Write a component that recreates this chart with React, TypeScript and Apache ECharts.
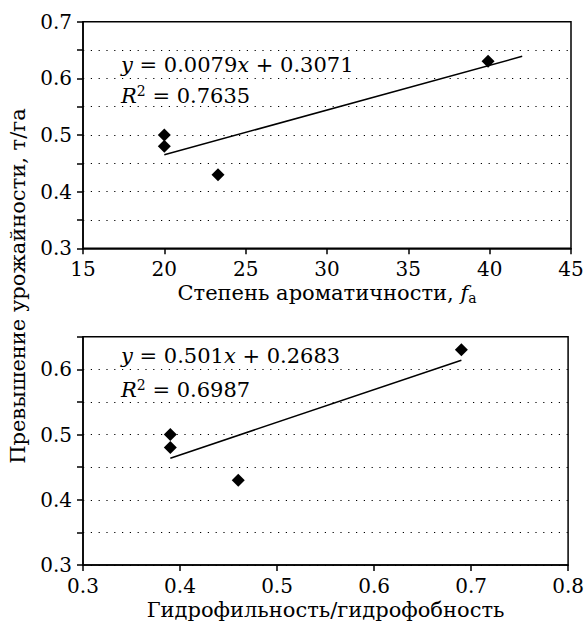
import { useEffect, useRef } from 'react';
import * as echarts from 'echarts';

// ---- data ----
const aromaticity = [20, 20, 23.3, 39.9];
const hydroRatio = [0.39, 0.39, 0.46, 0.69];
const yieldGain = [0.5, 0.48, 0.43, 0.63];

const fitAromatic = [0.0079, 0.3071]; // slope, intercept
const fitHydro = [0.501, 0.2683];
const r2Values = ['0.7635', '0.6987'];
const trendAromaticX = [20, 42];
const trendHydroX = [0.39, 0.69];

const axisAromatic = [15, 45, 5]; // min, max, interval
const axisHydro = [0.3, 0.8, 0.1];
const axisYieldTop = [0.3, 0.7, 0.05];
const axisYieldBottom = [0.3, 0.65, 0.05];

const yTitle = 'Превышение урожайности, т/га';
const xTitleTop = 'Степень ароматичности, {i|f}{sub|a}';
const xTitleBottom = 'Гидрофильность/гидрофобность';

const FONT = 'DejaVu Serif';

export default function App() {
  const ref = useRef<HTMLDivElement>(null);
  useEffect(() => {
    if (!ref.current) return;
    const chart = echarts.init(ref.current, undefined, { renderer: 'svg' });

    const pairs = (xs: number[], ys: number[]) => xs.map((x, i) => [x, ys[i]]);
    const trend = (xs: number[], fit: number[]) => xs.map((x) => [x, fit[0] * x + fit[1]]);

    const yLabel = (v: number) => (Math.abs(Math.round(v * 20)) % 2 === 0 ? v.toFixed(1) : '');
    const xLabelInt = (v: number) => String(Math.round(v));
    const xLabelDec = (v: number) => v.toFixed(1);

    const lineStyle = { color: '#000', width: 1.5 };
    const baseAxis = {
      type: 'value' as const,
      axisLine: { show: true, onZero: false, lineStyle },
      axisTick: { show: true, inside: false, length: 6, lineStyle },
      axisLabel: { color: '#000', fontFamily: FONT, fontSize: 20, margin: 11 },
    };
    const dotted = { show: true, lineStyle: { color: '#000', width: 1.2, type: [1.2, 6.6] } };

    const rich = {
      i: { fontStyle: 'italic', fontFamily: FONT, fontSize: 21, lineHeight: 24, color: '#000' },
      n: { fontFamily: FONT, fontSize: 21, lineHeight: 24, color: '#000' },
      sup: { fontFamily: FONT, fontSize: 14, lineHeight: 15, verticalAlign: 'top', color: '#000' },
    };

    const eqText = (fit: number[]) => `{i|y}{n| = ${fit[0]}}{i|x}{n| + ${fit[1]}}`;
    const r2Text = (r: string) => `{i|R}{sup|2}{n| = ${r}}`;

    const titleStyle = {
      color: '#000',
      fontFamily: FONT,
      fontSize: 21,
      lineHeight: 24,
      verticalAlign: 'top',
    };

    const option: echarts.EChartsOption = {
      animation: false,
      backgroundColor: '#fff',
      textStyle: { fontFamily: FONT, color: '#000' },
      grid: [
        { left: 83, right: 16, top: 21.7, height: 226.6, show: true, borderColor: '#000', borderWidth: 1.5, containLabel: false },
        { left: 83, right: 16, top: 336.7, height: 228.3, show: true, borderColor: '#000', borderWidth: 1.5, containLabel: false },
      ],
      xAxis: [
        {
          ...baseAxis,
          gridIndex: 0,
          min: axisAromatic[0],
          max: axisAromatic[1],
          interval: axisAromatic[2],
          splitLine: { show: false },
          axisLabel: { ...baseAxis.axisLabel, formatter: xLabelInt },
          name: xTitleTop,
          nameLocation: 'middle',
          nameGap: 33,
          nameTextStyle: {
            ...titleStyle,
            rich: {
              i: { fontStyle: 'italic', fontFamily: FONT, fontSize: 21, lineHeight: 24, color: '#000' },
              sub: { fontFamily: FONT, fontSize: 14, lineHeight: 12, verticalAlign: 'bottom', color: '#000' },
            },
          },
        },
        {
          ...baseAxis,
          gridIndex: 1,
          min: axisHydro[0],
          max: axisHydro[1],
          interval: axisHydro[2],
          splitLine: { show: false },
          axisLabel: { ...baseAxis.axisLabel, formatter: xLabelDec },
          name: xTitleBottom,
          nameLocation: 'middle',
          nameGap: 33,
          nameTextStyle: titleStyle,
        },
      ],
      yAxis: [
        {
          ...baseAxis,
          gridIndex: 0,
          min: axisYieldTop[0],
          max: axisYieldTop[1],
          interval: axisYieldTop[2],
          splitLine: dotted,
          axisLabel: { ...baseAxis.axisLabel, formatter: yLabel, showMaxLabel: true, showMinLabel: true },
        },
        {
          ...baseAxis,
          gridIndex: 1,
          min: axisYieldBottom[0],
          max: axisYieldBottom[1],
          interval: axisYieldBottom[2],
          splitLine: dotted,
          axisLabel: { ...baseAxis.axisLabel, formatter: yLabel, showMaxLabel: true, showMinLabel: true },
        },
      ],
      series: [
        {
          type: 'line',
          xAxisIndex: 0,
          yAxisIndex: 0,
          data: trend(trendAromaticX, fitAromatic),
          symbol: 'none',
          lineStyle: { color: '#000', width: 1.5 },
          z: 3,
        },
        {
          type: 'scatter',
          xAxisIndex: 0,
          yAxisIndex: 0,
          data: pairs(aromaticity, yieldGain),
          symbol: 'diamond',
          symbolSize: [13, 13],
          itemStyle: { color: '#000', opacity: 1 },
          z: 4,
        },
        {
          type: 'line',
          xAxisIndex: 1,
          yAxisIndex: 1,
          data: trend(trendHydroX, fitHydro),
          symbol: 'none',
          lineStyle: { color: '#000', width: 1.5 },
          z: 3,
        },
        {
          type: 'scatter',
          xAxisIndex: 1,
          yAxisIndex: 1,
          data: pairs(hydroRatio, yieldGain),
          symbol: 'diamond',
          symbolSize: [13, 13],
          itemStyle: { color: '#000', opacity: 1 },
          z: 4,
        },
      ],
      graphic: [
        {
          type: 'text',
          x: 18,
          y: 286,
          rotation: Math.PI / 2,
          style: { text: yTitle, fill: '#000', fontFamily: FONT, fontSize: 21, align: 'center', verticalAlign: 'middle' },
        },
        {
          type: 'text',
          x: 121,
          y: 65,
          style: { text: eqText(fitAromatic), rich, fontFamily: FONT, align: 'left', verticalAlign: 'middle' },
        },
        {
          type: 'text',
          x: 121,
          y: 96,
          style: { text: r2Text(r2Values[0]), rich, fontFamily: FONT, align: 'left', verticalAlign: 'middle' },
        },
        {
          type: 'text',
          x: 121,
          y: 356,
          style: { text: eqText(fitHydro), rich, fontFamily: FONT, align: 'left', verticalAlign: 'middle' },
        },
        {
          type: 'text',
          x: 121,
          y: 390,
          style: { text: r2Text(r2Values[1]), rich, fontFamily: FONT, align: 'left', verticalAlign: 'middle' },
        },
      ],
    };
    chart.setOption(option);
    return () => chart.dispose();
  }, []);

  return (
    <div
      ref={ref}
      style={{ position: 'fixed', left: 0, top: 0, width: 587, height: 624, background: '#fff' }}
    />
  );
}
